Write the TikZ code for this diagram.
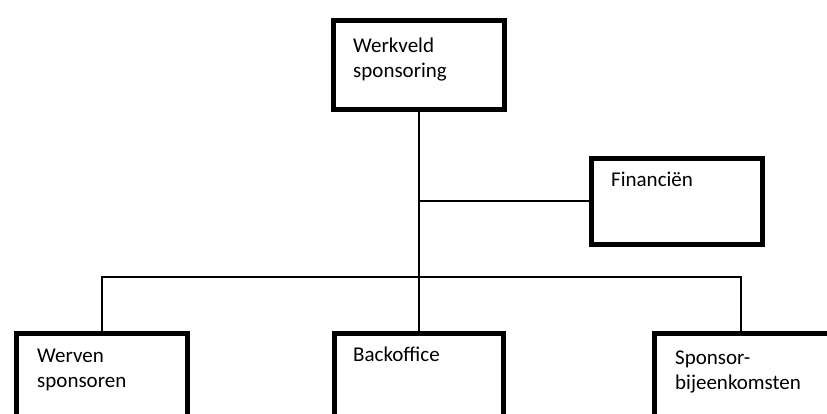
\documentclass[tikz,border=0pt]{standalone}
\usepackage{fontspec}
\setmainfont{Carlito}
\usepackage{tikz}

\begin{document}
\begin{tikzpicture}[x=1pt,y=-1pt,
    unit/.style={draw,line width=5pt,anchor=north west,minimum width=171pt,minimum height=89pt,inner sep=0pt},
    lbl/.style={anchor=base west,align=left,inner sep=0pt,font=\fontsize{21}{25}\selectfont},
    link/.style={line width=2pt}]
          \useasboundingbox (0,0) rectangle (827,413);
          \clip (0,0) rectangle (827,413);

          \node[unit] (werkveld) at (330.5,17.5) {};
          \node[unit,minimum height=86pt] (fin) at (588.5,155.5) {};
          \node[unit,minimum width=171pt] (werven) at (13.5,330.5) {};
          \node[unit,minimum width=169pt] (back) at (331.5,330.5) {};
          \node[unit,minimum width=180pt] (sponsor) at (651.5,330.5) {};

          % base = baseline of the last line
          \node[lbl] (werkveldtxt) at (353,77) {Werkveld\\sponsoring};
          \node[lbl] (fintxt) at (611,186) {Financiën};
          \node[lbl] (wervertxt) at (37,387) {Werven\\sponsoren};
          \node[lbl] (backtxt) at (353,361) {Backoffice};
          \node[lbl] (sponsortxt) at (675,389) {Sponsor-\\bijeenkomsten};

          \coordinate (bus) at (416,277);

          \draw[link] (werkveld.south) -- (back.north);
          \draw[link] (fin.west) -- (fin.west -| werkveld.south);
          \draw[link] (werven.north) |- (bus) -| ([xshift=-3pt]sponsor.north);
        \end{tikzpicture}
\end{document}
